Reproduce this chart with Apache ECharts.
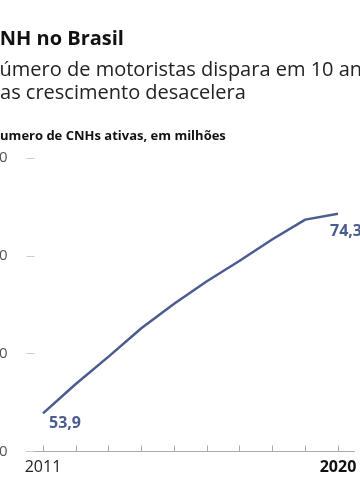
<!DOCTYPE html>
<html>
<head>
<meta charset="utf-8">
<script src="https://cdn.jsdelivr.net/npm/echarts@6/dist/echarts.min.js"></script>
<style>
html,body{margin:0;padding:0;background:#fff;}
#chart{width:360px;height:504px;}
</style>
</head>
<body>
<div id="chart"></div>
<script>
const years = ['2011','2012','2013','2014','2015','2016','2017','2018','2019','2020'];
const cnhMillions = [53.9, 56.9, 59.7, 62.6, 65.1, 67.4, 69.5, 71.7, 73.7, 74.3];
const valueLabels = ['53,9', '74,3'];
const yTicks = [50, 60, 70, 80];

const titleText = 'CNH no Brasil';
const subtitleLines = ['Número de motoristas dispara em 10 anos,', 'mas crescimento desacelera'];
const axisTitle = 'Numero de CNHs ativas, em milhões';

const FONT = '"Open Sans", "Noto Sans", sans-serif';
const LINE = '#4b5c8f';

const lastIdx = cnhMillions.length - 1;
const seriesData = cnhMillions.map((v, i) => {
  if (i === 0) {
    return { value: v, label: { show: true, formatter: valueLabels[0], position: 'bottom', distance: 0, offset: [22, 2] } };
  }
  if (i === lastIdx) {
    return { value: v, label: { show: true, formatter: valueLabels[1], position: 'bottom', distance: 0, offset: [8, 10] } };
  }
  return v;
});

const chart = echarts.init(document.getElementById('chart'), null, { renderer: 'canvas' });
chart.setOption({
  animation: false,
  textStyle: { fontFamily: FONT },
  grid: { left: 26.6, right: 5.6, top: 158, bottom: 52.5, containLabel: false, outerBoundsMode: 'none' },
  graphic: [
    { type: 'text', left: -13, top: 29, style: { text: titleText, font: 'bold 20px ' + FONT, fill: '#111' } },
    { type: 'text', left: -15.5, top: 60, style: { text: subtitleLines[0], font: '20px ' + FONT, fill: '#222' } },
    { type: 'text', left: -18.5, top: 83, style: { text: subtitleLines[1], font: '20px ' + FONT, fill: '#222' } },
    { type: 'text', left: -10.5, top: 130, style: { text: axisTitle, font: 'bold 13px ' + FONT, fill: '#111' } }
  ],
  xAxis: {
    type: 'category',
    data: years,
    boundaryGap: true,
    axisLine: { show: true, lineStyle: { color: '#aaa', width: 1 } },
    axisTick: { show: true, alignWithLabel: true, inside: true, length: 6, lineStyle: { color: '#aaa' } },
    axisLabel: {
      interval: 0,
      margin: 8,
      fontSize: 16,
      color: '#222',
      fontFamily: FONT,
      formatter: function (v, i) {
        if (i === 0) return v;
        if (i === years.length - 1) return '{b|' + v + '}';
        return '';
      },
      rich: { b: { fontWeight: 'bold', fontSize: 16, color: '#111', fontFamily: FONT } }
    },
    splitLine: { show: false }
  },
  yAxis: {
    type: 'value',
    min: yTicks[0],
    max: yTicks[yTicks.length - 1],
    interval: 10,
    axisLine: { show: false },
    axisTick: { show: true, inside: true, length: 8, lineStyle: { color: '#ccc' } },
    axisLabel: { margin: 19, fontSize: 15, color: '#555', fontFamily: FONT },
    splitLine: { show: false }
  },
  series: [{
    type: 'line',
    data: seriesData,
    symbol: 'circle',
    symbolSize: 0.1,
    showSymbol: true,
    itemStyle: { color: LINE, borderWidth: 0 },
    lineStyle: { color: LINE, width: 2.5 },
    label: { show: false, fontSize: 16, fontWeight: 'bold', color: LINE, fontFamily: FONT },
    emphasis: { disabled: true }
  }]
});
</script>
</body>
</html>
